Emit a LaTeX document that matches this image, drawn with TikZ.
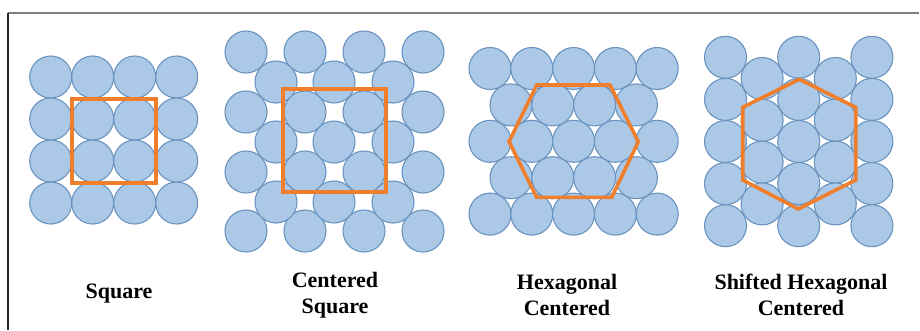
\documentclass[tikz,border=0pt]{standalone}
\usepackage{fontspec}
\setmainfont{Liberation Serif}
\definecolor{ballfill}{HTML}{ABC9E7}
\definecolor{balledge}{HTML}{6A93C0}
\definecolor{cellorange}{HTML}{F07F2D}
\definecolor{framegray}{HTML}{7F7F7F}
\tikzset{
  ball/.style={fill=ballfill, draw=balledge, line width=1.1pt},
  cell/.style={draw=cellorange, line width=3.6pt, line join=miter},
  lbl/.style={font=\bfseries\fontsize{22}{26.5}\selectfont, align=center, inner sep=0pt},
}
\begin{document}
\begin{tikzpicture}[x=1pt,y=-1pt]
\useasboundingbox (0,0) rectangle (920,330);
% frame
\draw[framegray, line width=1.5pt] (8,13) -- (919,13);
\draw[black!85, line width=1.5pt] (8,13) -- (8,330);

% --- Square ---
\foreach \i in {0,...,3}
  \foreach \j in {0,...,3}
    \filldraw[ball] ({50.7+42*\i},{77+42*\j}) circle[radius=21pt];
\draw[cell] (72,99) rectangle (156,183);
\node[lbl] (l1) at (119,294) {Square};

% --- Centered Square ---
\foreach \x in {246,305,364,423}
  \foreach \y in {52,112,172,231}
    \filldraw[ball] (\x,\y) circle[radius=21pt];
\foreach \x in {276,334,393}
  \foreach \y in {82,142,202}
    \filldraw[ball] (\x,\y) circle[radius=21pt];
\draw[cell] (283,89) rectangle (386,192);
\node[lbl] (l2) at (335,295) {Centered\\Square};

% --- Hexagonal Centered ---
\foreach \j in {0,2,4}
  \foreach \i in {0,...,4}
    \filldraw[ball] ({490+41.8*\i},{68.5+36.4*\j}) circle[radius=21pt];
\foreach \j in {1,3}
  \foreach \i in {0,...,3}
    \filldraw[ball] ({511+41.8*\i},{68.5+36.4*\j}) circle[radius=21pt];
\draw[cell] (536.7,85) -- (610,85) -- (638.3,141.7) -- (611.7,197.3)
  -- (536.7,197.3) -- (509,141.7) -- cycle;
\node[lbl] (l3) at (567,295) {Hexagonal\\Centered};

% --- Shifted Hexagonal Centered ---
\foreach \k in {0,2,4}
  \foreach \j in {0,...,4}
    \filldraw[ball] ({725.5+36.6*\k},{57.3+42.1*\j}) circle[radius=21pt];
\foreach \k in {1,3}
  \foreach \j in {0,...,3}
    \filldraw[ball] ({725.5+36.6*\k},{78.5+41.8*\j}) circle[radius=21pt];
\draw[cell] (799.3,79.3) -- (855.7,107.3) -- (855.7,180) -- (798.3,209)
  -- (742.7,180) -- (742.7,107.3) -- cycle;
\node[lbl] (l4) at (801,295) {Shifted Hexagonal\\Centered};
\end{tikzpicture}
\end{document}
